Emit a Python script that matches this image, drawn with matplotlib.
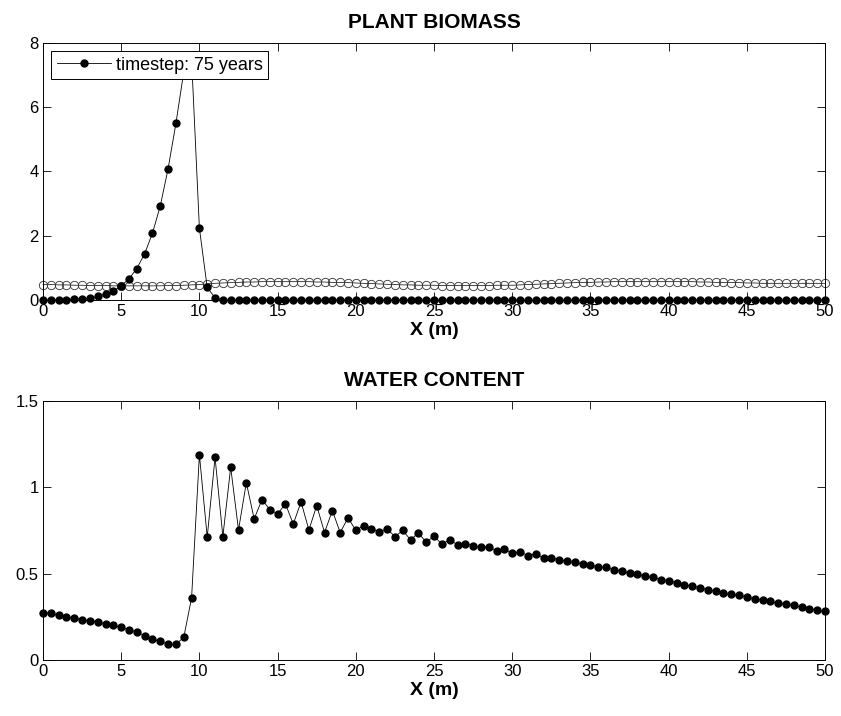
import numpy as np
import matplotlib
matplotlib.use("Agg")
import matplotlib.pyplot as plt

plt.rcParams['font.family'] = ['Liberation Sans', 'DejaVu Sans']

x = np.linspace(0, 50, 101)

biomass = [0.0, 0.0, 0.0, 0.0, 0.03, 0.03, 0.05, 0.11, 0.19, 0.27,
           0.44, 0.66, 0.98, 1.44, 2.08, 2.93, 4.09, 5.50, 7.1, 7.5,
           2.23, 0.39, 0.07] + [0.0] * 78

biomass_ref = [0.48, 0.48, 0.47, 0.47, 0.46, 0.46, 0.45, 0.45, 0.45, 0.44,
               0.44, 0.44, 0.44, 0.44, 0.44, 0.44, 0.45, 0.45, 0.46, 0.47,
               0.48, 0.50, 0.52, 0.53, 0.54, 0.55, 0.56, 0.56, 0.57, 0.57,
               0.57, 0.57, 0.57, 0.57, 0.57, 0.56, 0.56, 0.55, 0.55, 0.54,
               0.53, 0.52, 0.51, 0.50, 0.49, 0.48, 0.47, 0.47, 0.46, 0.46,
               0.46, 0.45, 0.45, 0.45, 0.45, 0.45, 0.45, 0.45, 0.46, 0.46,
               0.46, 0.47, 0.48, 0.49, 0.50, 0.51, 0.52, 0.53, 0.54, 0.55,
               0.55, 0.56, 0.56, 0.57, 0.57, 0.57, 0.57, 0.57, 0.57, 0.57,
               0.57, 0.57, 0.57, 0.57, 0.56, 0.56, 0.55, 0.55, 0.54, 0.54,
               0.53, 0.53, 0.52, 0.52, 0.52, 0.52, 0.52, 0.52, 0.52, 0.52,
               0.52]

water = [0.274, 0.270, 0.258, 0.249, 0.243, 0.233, 0.227, 0.220, 0.210, 0.200,
         0.189, 0.175, 0.162, 0.141, 0.121, 0.108, 0.092, 0.092, 0.131, 0.360,
         1.189, 0.711, 1.173, 0.715, 1.116, 0.753, 1.027, 0.817, 0.929, 0.871,
         0.846, 0.904, 0.788, 0.915, 0.753, 0.894, 0.738, 0.865, 0.738, 0.823,
         0.751, 0.778, 0.759, 0.744, 0.759, 0.715, 0.750, 0.696, 0.736, 0.682,
         0.717, 0.671, 0.696, 0.667, 0.672, 0.663, 0.653, 0.653, 0.634, 0.644,
         0.617, 0.628, 0.603, 0.615, 0.592, 0.593, 0.578, 0.572, 0.565, 0.555,
         0.551, 0.536, 0.536, 0.522, 0.516, 0.503, 0.499, 0.484, 0.478, 0.466,
         0.459, 0.447, 0.435, 0.428, 0.418, 0.408, 0.399, 0.389, 0.380, 0.374,
         0.364, 0.355, 0.345, 0.339, 0.329, 0.322, 0.316, 0.306, 0.297, 0.289,
         0.281]

xticks = [0, 5, 10, 15, 20, 25, 30, 35, 40, 45, 50]
yticks_top = [0, 2, 4, 6, 8]
yticks_bot = [0, 0.5, 1, 1.5]
ytick_labels_bot = ['0', '0.5', '1', '1.5']

fig = plt.figure(figsize=(8.41, 7.16), dpi=100)
ax1 = fig.add_axes([0.0511, 0.581, 0.930, 0.359])
ax2 = fig.add_axes([0.0511, 0.0782, 0.930, 0.3618])

def style(ax):
    ax.tick_params(direction='in', top=True, right=True, length=6, width=0.6,
                   labelsize=12, pad=3, colors='black')
    for s in ax.spines.values():
        s.set_linewidth(0.7)
        s.set_color('black')
    ax.set_xlim(0, 50)
    ax.set_xticks(xticks)
    ax.set_xticklabels([str(t) for t in xticks])
    ax.set_xlabel('X (m)', fontsize=14, fontweight='bold', labelpad=2)

# Top plot
ax1.plot(x, biomass_ref, '-', color='black', lw=0.5, marker='o', ms=6,
         mfc='none', mec='#333333', mew=0.6, clip_on=False, zorder=2)
line, = ax1.plot(x, biomass, '-', color='black', lw=0.6, marker='o', ms=5,
                 mfc='black', mec='black', clip_on=False, zorder=3)
ax1.set_ylim(0, 8)
ax1.set_yticks(yticks_top)
ax1.set_yticklabels([str(t) for t in yticks_top])
style(ax1)
ax1.set_title('PLANT BIOMASS', fontsize=15, fontweight='bold', pad=11)
leg = ax1.legend([line], ['timestep: 75 years'], loc='upper left',
                 fontsize=13, fancybox=False, framealpha=1, edgecolor='black',
                 handlelength=3.0, borderaxespad=0.45, borderpad=0.3,
                 handletextpad=0.3)
leg.get_frame().set_linewidth(0.7)
leg.set_zorder(10)

# Bottom plot
ax2.plot(x, water, '-', color='black', lw=0.6, marker='o', ms=5,
         mfc='black', mec='black', clip_on=False, zorder=3)
ax2.set_ylim(0, 1.5)
ax2.set_yticks(yticks_bot)
ax2.set_yticklabels(ytick_labels_bot)
style(ax2)
ax2.set_title('WATER CONTENT', fontsize=15, fontweight='bold', pad=11)

fig.savefig('out.png', dpi=100, facecolor='white')
